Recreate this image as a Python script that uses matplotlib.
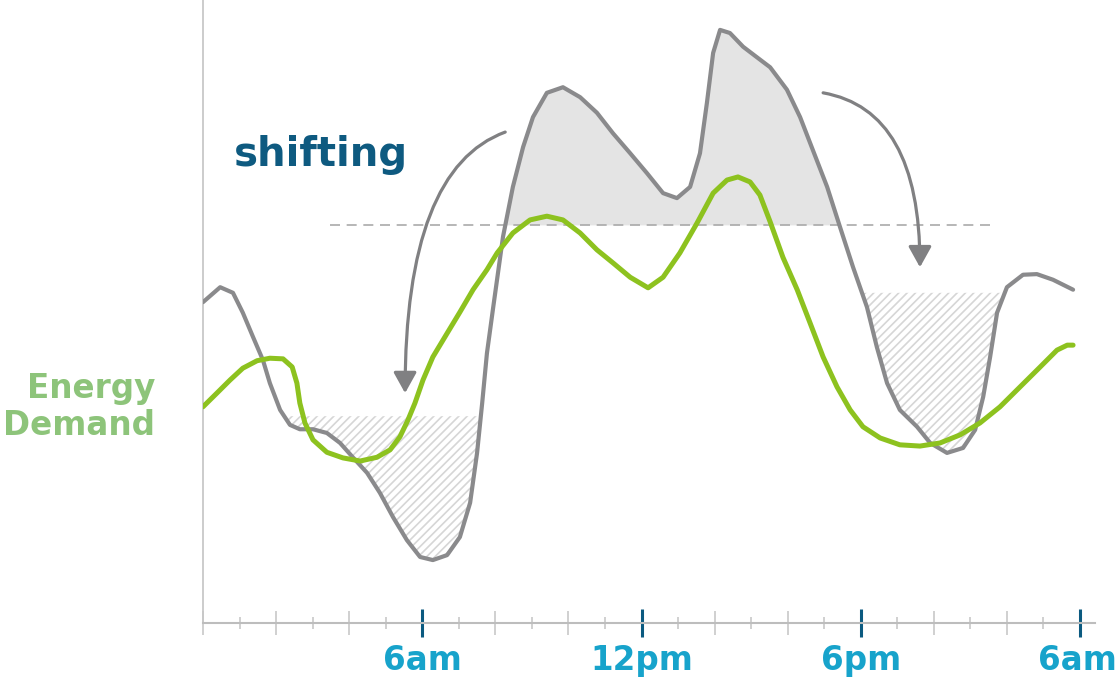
import numpy as np
import matplotlib.pyplot as plt
from matplotlib.patches import FancyArrowPatch
from matplotlib.transforms import ScaledTranslation

# hours after midnight (24 = the next 6am mark is at 24h on this axis) and demand (0-100)
grid_hours = [0.0, 0.47, 0.82, 1.09, 1.37, 1.64, 1.83, 2.11, 2.38, 2.65, 3.01, 3.39,
              3.75, 4.10, 4.49, 4.84, 5.20, 5.58, 5.94, 6.29, 6.68, 7.03, 7.31, 7.50,
              7.64, 7.77, 7.94, 8.21, 8.48, 8.76, 9.03, 9.41, 9.85, 10.32, 10.78, 11.22,
              11.69, 12.15, 12.59, 12.97, 13.33, 13.60, 13.79, 13.96, 14.15, 14.42,
              14.78, 15.16, 15.52, 15.98, 16.34, 16.69, 17.08, 17.43, 17.79, 18.17,
              18.44, 18.72, 19.07, 19.54, 19.90, 20.36, 20.80, 21.13, 21.35, 21.54,
              21.73, 22.00, 22.44, 22.82, 23.26, 23.81]
grid_demand = [51.5, 53.9, 53.0, 49.8, 45.9, 42.2, 38.5, 34.2, 31.8, 31.1, 31.1, 30.5,
               28.9, 26.6, 24.1, 20.9, 17.0, 13.3, 10.6, 10.1, 10.9, 13.8, 19.3, 27.3,
               35.3, 43.3, 50.6, 62.0, 70.0, 76.4, 81.2, 85.1, 86.0, 84.4, 81.9, 78.6,
               75.4, 72.2, 69.0, 68.2, 70.0, 75.4, 83.5, 91.5, 95.2, 94.7,
               92.5, 90.8, 89.2, 85.6, 81.2, 75.9, 70.0, 63.6, 57.1, 50.7,
               44.3, 38.5, 34.2, 31.5, 28.9, 27.3, 28.1, 31.0, 36.3, 42.7,
               49.8, 53.9, 55.9, 56.0, 55.1, 53.5]

green_hours = [0.0, 0.38, 0.74, 1.09, 1.48, 1.83, 2.19, 2.44, 2.57, 2.65, 2.79, 3.01,
               3.39, 3.83, 4.30, 4.76, 5.12, 5.39, 5.61, 5.80, 6.02, 6.29, 6.68, 7.03,
               7.39, 7.77, 8.05, 8.48, 8.95, 9.41, 9.85, 10.32, 10.78, 11.22, 11.69,
               12.18, 12.59, 13.05, 13.52, 13.96, 14.34, 14.64, 14.97, 15.24, 15.52,
               15.87, 16.26, 16.61, 16.97, 17.35, 17.71, 18.06, 18.53, 19.07, 19.62,
               20.17, 20.72, 21.26, 21.81, 22.36, 22.91, 23.37, 23.65, 23.81]
green_demand = [34.7, 36.9, 39.0, 40.9, 42.1, 42.5, 42.4, 41.1, 38.5, 35.3, 32.1, 29.4,
                27.4, 26.5, 26.0, 26.6, 27.8, 29.9, 32.6, 35.3, 39.0, 42.7, 46.5, 49.9,
                53.5, 56.7, 59.4, 62.6, 64.7, 65.3, 64.7, 62.6, 59.9, 57.8, 55.5,
                53.8, 55.5, 59.4, 64.2, 69.0, 71.1, 71.6, 70.8, 68.7, 64.4,
                58.7, 53.5, 48.2, 42.7, 37.9, 34.2, 31.5, 29.7, 28.6, 28.4,
                28.9, 30.2, 32.1, 34.7, 37.9, 41.1, 43.8, 44.6, 44.6]

peak_level = 63.9      # dashed "average" line
night_level_1 = 33.2   # top of early-morning hatched area
night_level_2 = 53.0   # top of late-night hatched area

tick_hours = [6, 12, 18, 24]
tick_labels = ['6am', '12pm', '6pm', '6am']

GRAY = '#8a8a8c'
GREEN = '#8dc21f'

fig = plt.figure(figsize=(11.18, 6.79), dpi=100)
ax = fig.add_axes([203 / 1118, 56 / 679, 892 / 1118, 623 / 679])
ax.set_xlim(0, 24.41)
ax.set_ylim(0, 100)

gx = np.array(grid_hours)
gy = np.array(grid_demand)

# peak area above the dashed line
ax.fill_between(gx, gy, peak_level, where=(gy > peak_level) & (gx > 7) & (gx < 18),
                interpolate=True, color='#e4e4e4', linewidth=0, zorder=1)

# valleys that take the shifted load
plt.rcParams['hatch.linewidth'] = 1.2
ax.fill_between(gx, gy, night_level_1, where=(gy < night_level_1) & (gx < 8),
                interpolate=True, facecolor='none', edgecolor='#d6d6d6',
                hatch='////', linewidth=0, zorder=1)
ax.fill_between(gx, gy, night_level_2, where=(gy < night_level_2) & (gx > 17) & (gx < 22),
                interpolate=True, facecolor='none', edgecolor='#d6d6d6',
                hatch='////', linewidth=0, zorder=1)

ax.plot([3.48, 21.62], [peak_level, peak_level], color='#aaaaaa', lw=1.2,
        dashes=(6, 4), zorder=2)

ax.plot(gx, gy, color=GRAY, lw=3.0, solid_joinstyle='round',
        solid_capstyle='round', zorder=3)
ax.plot(green_hours, green_demand, color=GREEN, lw=3.6, solid_joinstyle='round',
        solid_capstyle='round', zorder=4)

# shifting arrows
arr_style = '-|>,head_length=0.9,head_width=0.5'
a1 = FancyArrowPatch((8.27, 78.8), (5.53, 36.9),
                     connectionstyle='angle3,angleA=20,angleB=90',
                     arrowstyle=arr_style, mutation_scale=14, color='#808082',
                     lw=2.3, shrinkA=0, shrinkB=0, zorder=5)
a2 = FancyArrowPatch((16.97, 85.1), (19.62, 57.1),
                     connectionstyle='angle3,angleA=-10,angleB=90',
                     arrowstyle=arr_style, mutation_scale=14, color='#808082',
                     lw=2.3, shrinkA=0, shrinkB=0, zorder=5)
ax.add_patch(a1)
ax.add_patch(a2)

# axes look
for s in ['top', 'right']:
    ax.spines[s].set_visible(False)
ax.spines['left'].set_color('#c8c8c8')
ax.spines['left'].set_linewidth(1.3)
ax.spines['bottom'].set_color('#bdbdbd')
ax.spines['bottom'].set_linewidth(1.5)
ax.set_yticks([])

ax.set_xticks(tick_hours)
ax.set_xticklabels(tick_labels)
ax.tick_params(axis='x', which='major', direction='inout', length=20, width=2.2,
               color='#0b5a80', pad=5, labelsize=23.5, labelcolor='#17a3cb')
labels = ax.get_xticklabels()
for lab in labels:
    lab.set_fontweight('bold')
# keep the last label inside the picture
labels[-1].set_transform(labels[-1].get_transform()
                         + ScaledTranslation(-0.03, 0, fig.dpi_scale_trans))
ax.set_xticks([h for h in range(0, 24, 2) if h not in tick_hours], minor=True)
ax.tick_params(axis='x', which='minor', direction='inout', length=17, width=1.1,
               color='#c4c4c4')

odd = ax.secondary_xaxis(0)
odd.set_xticks(list(range(1, 24, 2)))
odd.set_xticklabels([])
odd.tick_params(direction='inout', length=9, width=1.1, color='#c4c4c4')
odd.spines['bottom'].set_visible(False)

fig.text(234 / 1118, 1 - 155 / 679, 'shifting', color='#0e5a80', fontsize=29,
         fontweight='bold', ha='left', va='center')
fig.text(155 / 1118, 1 - 407 / 679, 'Energy\nDemand', color='#8dc47a', fontsize=23.5,
         fontweight='bold', ha='right', va='center', multialignment='right',
         linespacing=1.12)

fig.savefig('out.png', dpi=100)
